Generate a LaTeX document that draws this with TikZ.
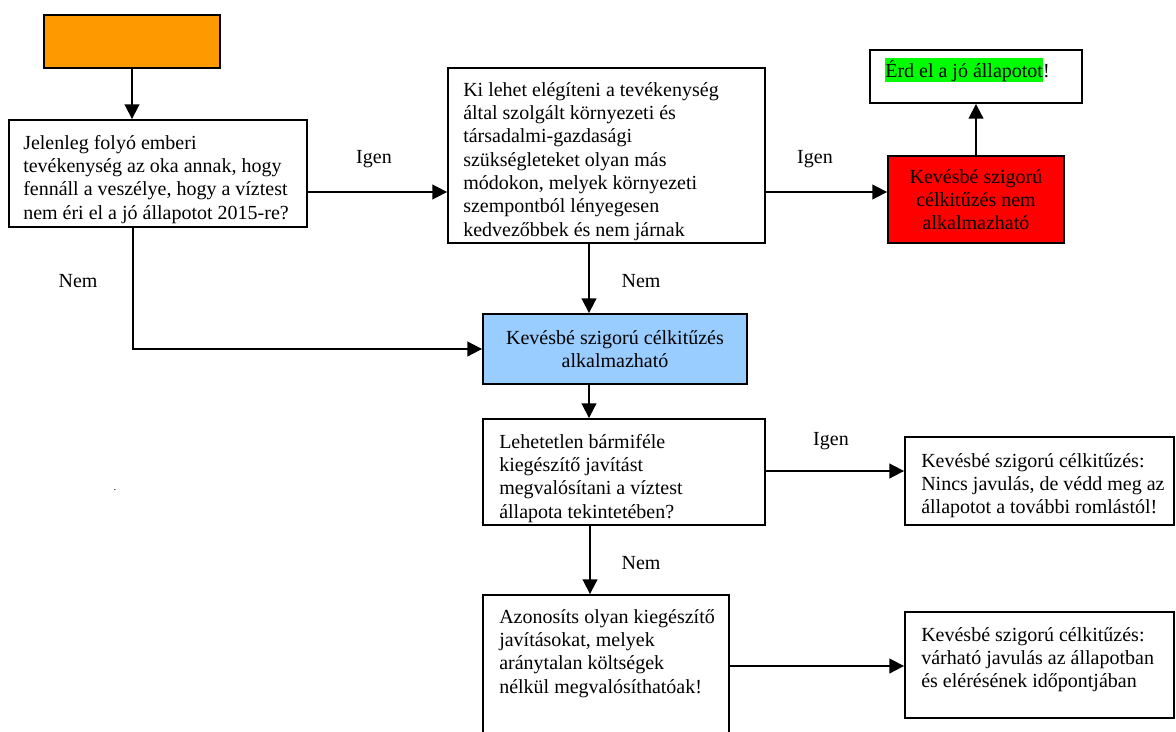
\documentclass[tikz,border=0pt]{standalone}
\usepackage{fontspec}
\setmainfont{Liberation Serif}
\usetikzlibrary{arrows.meta}
\definecolor{orng}{HTML}{FF9900}
\definecolor{redbox}{HTML}{FF0000}
\definecolor{bluebox}{HTML}{99CCFF}
\definecolor{hl}{HTML}{00FF00}
\setlength{\fboxsep}{0pt}
\newcommand\fs{\rule{0pt}{15pt}}
\newcommand\bx[7]{\node[box, fill=#6, minimum width={(#4-#2)*0.75pt}, minimum height={(#5-#3)*0.75pt}] (#1) at ({(#2+#4)/2},{(#3+#5)/2}) {#7};}
\begin{document}
\begin{tikzpicture}[x=0.75pt,y=-0.75pt,
  every node/.style={font=\fontsize{15pt}{17.5pt}\selectfont},
  box/.style={draw, line width=1.4pt, rectangle, inner sep=0pt, align=center},
  txt/.style={anchor=north west, inner sep=0pt, align=left},
  lbl/.style={anchor=base, inner sep=0pt},
  arr/.style={line width=1.4pt, -{Triangle[length=11pt,width=11pt]}}]
\useasboundingbox (0,0) rectangle (1176,731);
\clip (0,0) rectangle (1176,731);
% boxes
\bx{o}{44}{15}{220}{68}{orng}{}
\bx{b1}{9}{120}{307}{227}{white}{}
\bx{b2}{448}{68}{765}{243}{white}{}
\bx{red}{888}{156}{1064}{243}{redbox}{Kevésbé szigorú\\célkitűzés nem\\alkalmazható}
\bx{grn}{870}{50}{1082}{103}{white}{}
\bx{blue}{483}{314}{747}{384}{bluebox}{Kevésbé szigorú célkitűzés\\alkalmazható}
\bx{b3}{483}{419}{765}{525}{white}{}
\bx{b4}{905}{437}{1174}{525}{white}{}
\bx{b5}{483}{595}{729}{760}{white}{}
\bx{b6}{905}{612}{1174}{718}{white}{}
% texts
\node[txt] (t1) at (23,129) {\fs Jelenleg folyó emberi\\tevékenység az oka annak, hogy\\fennáll a veszélye, hogy a víztest\\nem éri el a jó állapotot 2015-re?};
\node[txt] (t2) at (463,76) {\fs Ki lehet elégíteni a tevékenység\\által szolgált környezeti és\\társadalmi-gazdasági\\szükségleteket olyan más\\módokon, melyek környezeti\\szempontból lényegesen\\kedvezőbbek és nem járnak};
\node[txt] (tg) at (885,57) {\fs\colorbox{hl}{\rule[-3.75pt]{0pt}{18pt}Érd el a jó állapotot}!};
\node[txt] (t3) at (499,428) {\fs Lehetetlen bármiféle\\kiegészítő javítást\\megvalósítani a víztest\\állapota tekintetében?};
\node[txt] (t4) at (921,447) {\fs Kevésbé szigorú célkitűzés:\\Nincs javulás, de védd meg az\\állapotot a további romlástól!};
\node[txt] (t5) at (499,603) {\fs Azonosíts olyan kiegészítő\\javításokat, melyek\\aránytalan költségek\\nélkül megvalósíthatóak!};
\node[txt] (t6) at (921,621) {\fs Kevésbé szigorú célkitűzés:\\várható javulás az állapotban\\és elérésének időpontjában};
% labels
\node[lbl] (l1) at (374,163) {Igen};
\node[lbl] (l2) at (815,163) {Igen};
\node[lbl] (l3) at (78,287) {Nem};
\node[lbl] (l4) at (641,287) {Nem};
\node[lbl] (l5) at (831,445) {Igen};
\node[lbl] (l6) at (641,569) {Nem};
\node[lbl, font=\fontsize{8pt}{9pt}\selectfont] (dot) at (115,490) {.};
% connectors
\draw[arr] (o.south) -- (o.south |- b1.north);
\draw[arr] (b1.east |- 0,192) -- (b2.west |- 0,192);
\draw[arr] (b2.east |- 0,192) -- (red.west |- 0,192);
\draw[arr] (red.north) -- (grn.south);
\draw[arr] (b1.south -| 133,0) -- (133,0 |- blue.west) -- (blue.west);
\draw[arr] (b2.south -| 589,0) -- (blue.north -| 589,0);
\draw[arr] (blue.south -| 589,0) -- (b3.north -| 589,0);
\draw[arr] (b3.east |- 0,471) -- (b4.west |- 0,471);
\draw[arr] (b3.south -| 590,0) -- (b5.north -| 590,0);
\draw[arr] (b5.east |- 0,666) -- (b6.west |- 0,666);
\end{tikzpicture}
\end{document}
